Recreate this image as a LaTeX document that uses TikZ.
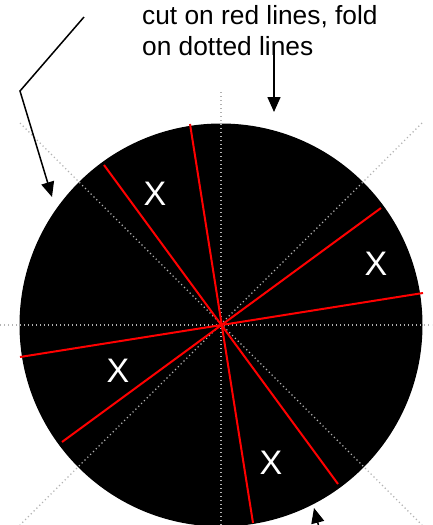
\documentclass[tikz,border=0pt]{standalone}
\usepackage{fontspec}
\setmainfont{Liberation Sans}
\usetikzlibrary{arrows.meta}
\begin{document}
\begin{tikzpicture}[x=1pt,y=-1pt,
  foldline/.style={draw=black!30, line width=1.2pt, dash pattern=on 1.2pt off 2.8pt},
  cutline/.style={draw=red, line width=2pt},
  pointer/.style={draw=black, line width=1.5pt, -{Triangle[length=15pt,width=13pt]}},
  xlabel/.style={text=white, font=\fontsize{34}{34}\selectfont, inner sep=0pt},
  caption/.style={font=\fontsize{26.3}{31}\selectfont, inner sep=0pt, anchor=base west}]
\useasboundingbox (0,0) rectangle (432,525);
\clip (0,0) rectangle (432,525);
\coordinate (c) at (221,325);
% disk
\fill[black] (c) circle (201.5);
% fold lines
\coordinate (h1) at (0,325);   \coordinate (h2) at (432,325);
\coordinate (v1) at (221,92);  \coordinate (v2) at (221,525);
\coordinate (d1) at (20,123);  \coordinate (d2) at (422,525);
\coordinate (e1) at (422,123); \coordinate (e2) at (20,525);
\path[foldline] (h1) -- (h2);
\path[foldline] (v1) -- (v2);
\path[foldline] (d1) -- (d2);
\path[foldline] (e1) -- (e2);
% cut lines
\coordinate (r1a) at (190,124); \coordinate (r1b) at (253,523);
\coordinate (r2a) at (104,165); \coordinate (r2b) at (338,484);
\coordinate (r3a) at (20,357);  \coordinate (r3b) at (423,293);
\coordinate (r4a) at (62,442);  \coordinate (r4b) at (381,208);
\path[cutline] (r1a) -- (r1b);
\path[cutline] (r2a) -- (r2b);
\path[cutline] (r3a) -- (r3b);
\path[cutline] (r4a) -- (r4b);
% X labels
\node[xlabel] (x1) at (155,194) {X};
\node[xlabel] (x2) at (376,264) {X};
\node[xlabel] (x3) at (118,371) {X};
\node[xlabel] (x4) at (271,463) {X};
% caption
\node[caption] (t1) at (142,24) {cut on red lines, fold};
\node[caption] (t2) at (142,55) {on dotted lines};
% pointers
\coordinate (p1) at (84,17); \coordinate (p2) at (20,91); \coordinate (p3) at (52,197);
\path[pointer] (p1) -- (p2) -- (p3);
\coordinate (q1) at (274,45); \coordinate (q2) at (274,112);
\path[pointer] (q1) -- (q2);
\coordinate (s1) at (321,535); \coordinate (s2) at (314,508);
\path[pointer] (s1) -- (s2);
\end{tikzpicture}
\end{document}
